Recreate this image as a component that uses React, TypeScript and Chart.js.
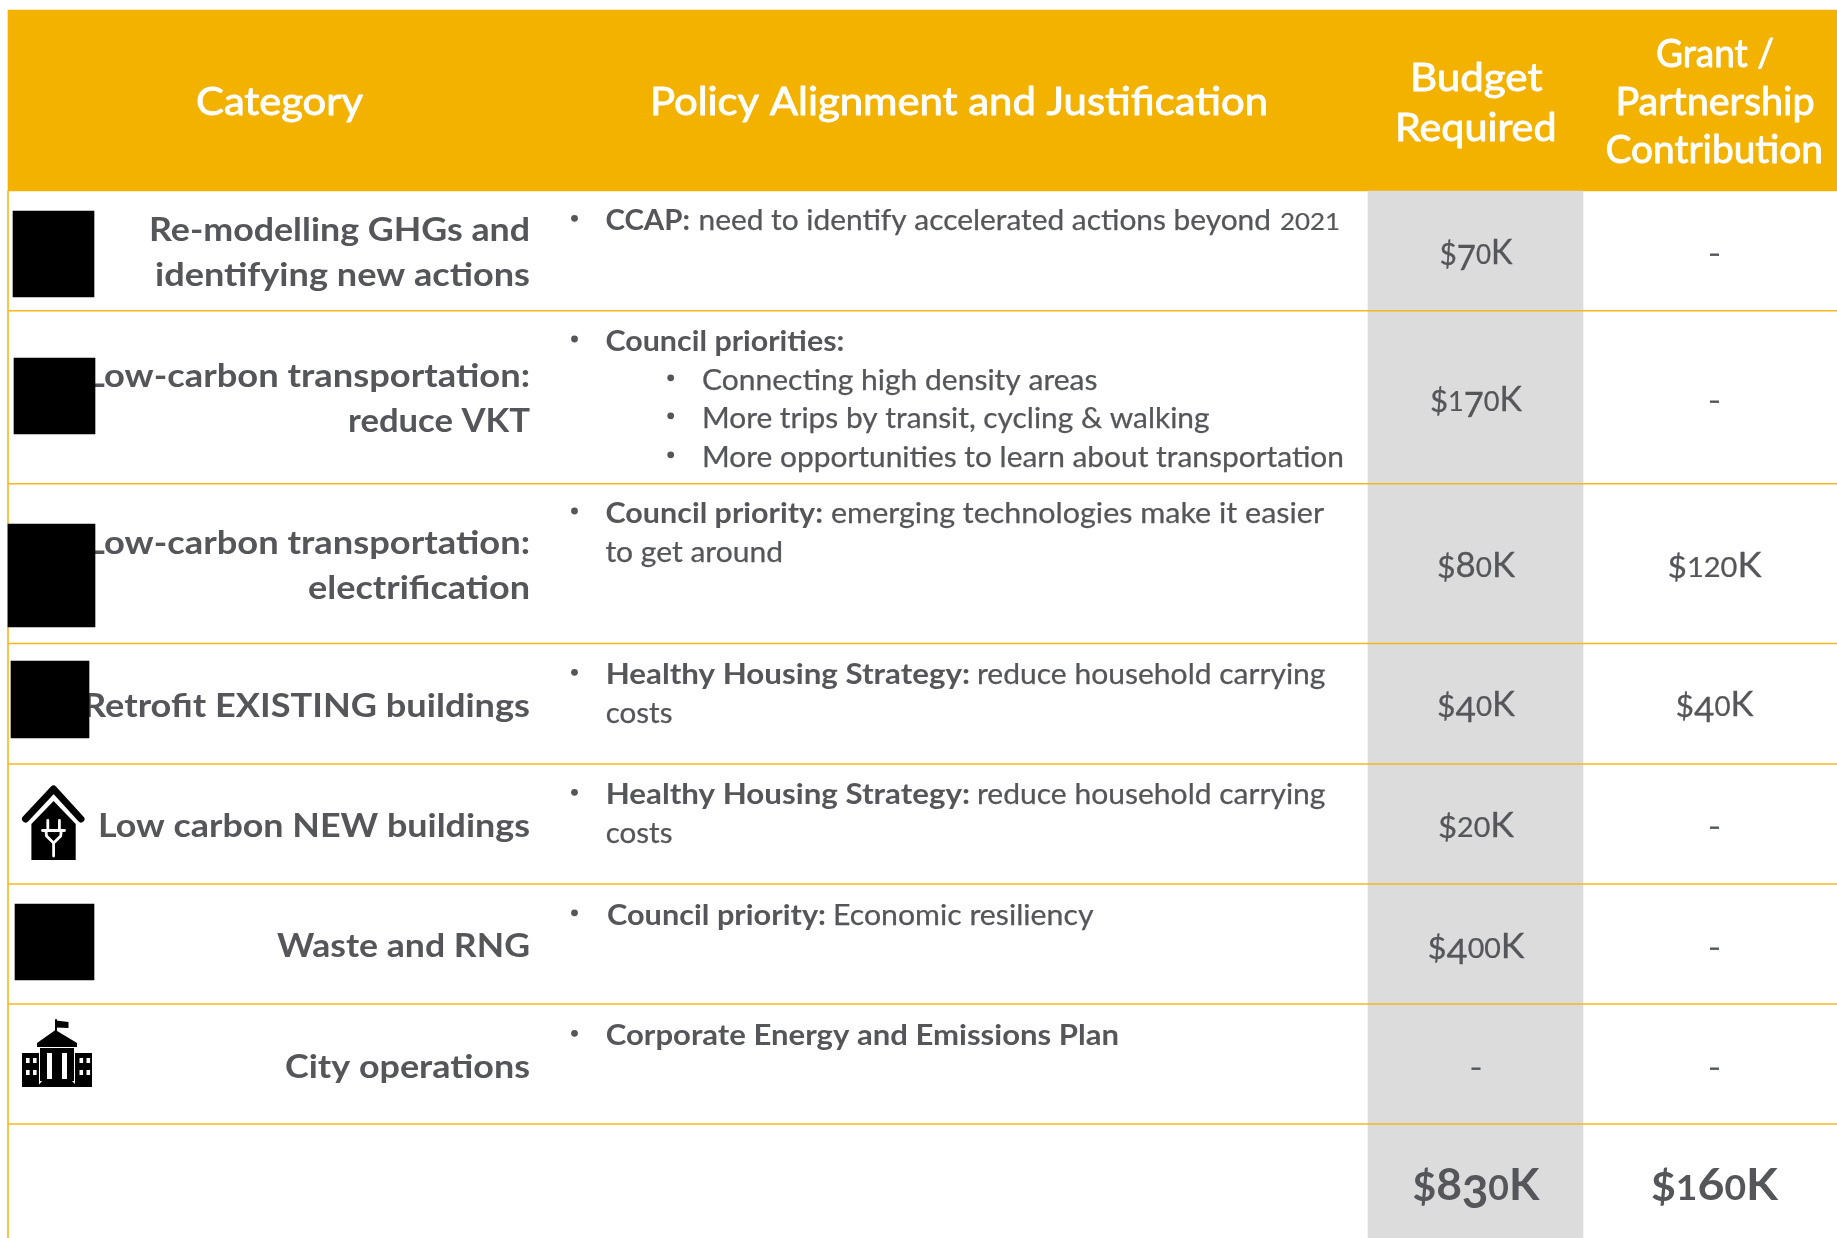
import React, { useEffect, useRef } from "react";
import { Chart, registerables } from "chart.js";

Chart.register(...registerables);

// ---------- content ----------
const headerLabels = ["Category", "Policy Alignment and Justification", "Budget", "Required", "Grant /", "Partnership", "Contribution"];
const categoryLines = [
  "Re-modelling GHGs and", "identifying new actions",
  "Low-carbon transportation:", "reduce VKT",
  "Low-carbon transportation:", "electrification",
  "Retrofit EXISTING buildings",
  "Low carbon NEW buildings",
  "Waste and RNG",
  "City operations",
];
const policyBold = ["CCAP:", "Council priorities:", "", "", "", "Council priority:", "", "Healthy Housing Strategy:", "", "Healthy Housing Strategy:", "", "Council priority:", "Corporate Energy and Emissions Plan"];
const policyText = [
  "need to identify accelerated actions beyond 2021", "",
  "Connecting high density areas", "More trips by transit, cycling & walking", "More opportunities to learn about transportation",
  "emerging technologies make it easier", "to get around",
  "reduce household carrying", "costs",
  "reduce household carrying", "costs",
  "Economic resiliency", "",
];
const budgetValues = [70, 170, 80, 40, 20, 400, null];
const grantValues = [null, null, 120, 40, null, null, null];
const totalValues = [830, 160];

// ---------- layout (in reference pixels, mapped through the chart's scales) ----------
const W = 1837;
const H = 1238;
const ruleYs = [310.7, 483.7, 643.5, 764, 884, 1004, 1124];
const headerRect = [8, 1837, 10, 191];
const budgetRect = [1368, 1583, 191, 1238];
const redactedRects = [
  [13, 94, 211, 297],
  [14, 95, 358, 434],
  [8, 95, 524, 627],
  [11, 89, 661, 738],
  [15, 94, 904, 980],
];
const headerBoxes = [
  [196, 363, 115], [650, 1268, 115],
  [1410, 1542.5, 90.5], [1395, 1556.5, 140.7],
  [1656, 1774, 66.5], [1615.4, 1814.7, 114.5], [1605.5, 1823, 162.5],
];
const categoryBoxes = [
  [149, 530, 240.7], [155, 530, 285.7],
  [86, 530, 386.7], [348, 530, 431.7],
  [86, 530, 554], [308, 530, 599],
  [83, 530, 716.5],
  [98, 530, 836.5],
  [277, 530, 956.5],
  [285, 530, 1077.5],
];
// boldLeft, boldRight, textLeft, textRight, baseline, bulletX (0 = none)
const policyBoxes = [
  [605.4, 690, 698.5, 1340, 230, 574.5],
  [605.4, 844.4, 0, 0, 350.7, 574.5],
  [0, 0, 702, 1097.5, 389.5, 670.7],
  [0, 0, 702, 1209.5, 427.5, 670.7],
  [0, 0, 702, 1344, 466.5, 670.7],
  [605.4, 823, 831, 1324, 522.7, 574.5],
  [0, 0, 605.4, 783, 562, 0],
  [605.7, 970, 977, 1325.5, 684, 574.5],
  [0, 0, 605.7, 672.5, 722.5, 0],
  [605.7, 970, 977, 1325.5, 804, 574.5],
  [0, 0, 605.7, 672.5, 843, 0],
  [607, 826, 833, 1093.5, 924.5, 574.5],
  [605.7, 1119, 0, 0, 1045, 574.5],
];
const valueBaselines = [263.5, 410.5, 576.5, 716, 836.5, 957.5, 1077.5];
const budgetWidths = [73, 92, 78, 78, 76, 97, 0];
const grantWidths = [0, 0, 94, 78, 0, 0, 0];
const budgetCx = 1476;
const grantCx = 1714.5;
const totalBaseline = 1200;
const totalWidths = [127, 127];

const INK = "#54565A";
const AMBER = "#F3B200";
const RULE = "#F4B71E";
const FAMILY = "Lato, 'Open Sans', sans-serif";

// old-style figures: [scale, drop in em]
const glyphStyle = (c: string): [number, number] => {
  if ("012".includes(c)) return [0.8, 0];
  if ("3457 9".includes(c)) return [1.02, 0.19];
  if (c === "$") return [0.92, 0.03];
  return [1, 0];
};

function measureRun(ctx: CanvasRenderingContext2D, text: string, oldStyle: boolean) {
  if (!oldStyle) return ctx.measureText(text).width;
  let w = 0;
  for (const c of text) w += ctx.measureText(c).width * glyphStyle(c)[0];
  return w;
}

function fitText(
  ctx: CanvasRenderingContext2D,
  text: string,
  x0: number,
  x1: number,
  base: number,
  font: string,
  color: string,
  size: number,
  oldStyle = false,
  embolden = 0,
) {
  ctx.save();
  ctx.font = font;
  ctx.fillStyle = color;
  ctx.strokeStyle = color;
  ctx.lineWidth = embolden;
  ctx.lineJoin = "round";
  ctx.textBaseline = "alphabetic";
  ctx.textAlign = "left";
  const w = measureRun(ctx, text, oldStyle);
  ctx.translate(x0, base);
  ctx.scale((x1 - x0) / w, 1);
  if (!oldStyle) {
    ctx.fillText(text, 0, 0);
    if (embolden) ctx.strokeText(text, 0, 0);
  } else {
    let cx = 0;
    for (const c of text) {
      const [s, d] = glyphStyle(c);
      ctx.save();
      ctx.translate(cx, d * size);
      ctx.scale(s, s);
      ctx.fillText(c, 0, 0);
      if (embolden) ctx.strokeText(c, 0, 0);
      ctx.restore();
      cx += ctx.measureText(c).width * s;
    }
  }
  ctx.restore();
}

function splitDigits(
  ctx: CanvasRenderingContext2D,
  text: string,
  x0: number,
  x1: number,
  base: number,
  font: string,
  size: number,
) {
  // body text ending in old-style year
  const m = text.match(/^(.*?)(\d+)$/);
  if (!m) {
    fitText(ctx, text, x0, x1, base, font, INK, size, false, 0.25);
    return;
  }
  const split = x1 - 60;
  fitText(ctx, m[1].trimEnd(), x0, split - 9, base, font, INK, size, false, 0.25);
  fitText(ctx, m[2], split, x1, base, font, INK, size, true, 0.25);
}

function drawTable(chart: Chart) {
  const ctx = chart.ctx;
  const px = (v: number) => chart.scales.x.getPixelForValue(v);
  const py = (v: number) => chart.scales.y.getPixelForValue(v);

  const headFont = `38px ${FAMILY}`;
  headerLabels.forEach((t, i) => {
    const [a, b, c] = headerBoxes[i];
    fitText(ctx, t, px(a), px(b), py(c), headFont, "#FFFFFF", 38, false, 0.9);
  });

  const catFont = `bold 33px ${FAMILY}`;
  categoryLines.forEach((t, i) => {
    const [a, b, c] = categoryBoxes[i];
    fitText(ctx, t, px(a), px(b), py(c), catFont, INK, 33);
  });

  const boldFont = `bold 28px ${FAMILY}`;
  const bodyFont = `28px ${FAMILY}`;
  policyBoxes.forEach((box, i) => {
    const [ba, bb, ta, tb, base, bullet] = box;
    if (policyBold[i]) fitText(ctx, policyBold[i], px(ba), px(bb), py(base), boldFont, INK, 28);
    if (policyText[i]) splitDigits(ctx, policyText[i], px(ta), px(tb), py(base), bodyFont, 28);
    if (bullet) {
      ctx.fillStyle = INK;
      ctx.beginPath();
      ctx.arc(px(bullet), py(base - 11.7), 3.4, 0, Math.PI * 2);
      ctx.fill();
    }
  });

  const valFont = `34px ${FAMILY}`;
  const cell = (v: number | null, cx: number, width: number, base: number) => {
    if (v === null) {
      ctx.fillStyle = INK;
      ctx.fillRect(px(cx - 4.5), py(base - 10), 9, 2.4);
    } else {
      fitText(ctx, `$${v}K`, px(cx - width / 2), px(cx + width / 2), py(base), valFont, INK, 34, true, 0.3);
    }
  };
  budgetValues.forEach((v, i) => cell(v, budgetCx, budgetWidths[i], valueBaselines[i]));
  grantValues.forEach((v, i) => cell(v, grantCx, grantWidths[i], valueBaselines[i]));

  const totFont = `bold 44px ${FAMILY}`;
  [budgetCx, grantCx].forEach((cx, i) => {
    const w = totalWidths[i];
    fitText(ctx, `$${totalValues[i]}K`, px(cx - w / 2), px(cx + w / 2), py(totalBaseline), totFont, INK, 44, true);
  });
}

function drawIcons(chart: Chart) {
  const ctx = chart.ctx;
  const px = (v: number) => chart.scales.x.getPixelForValue(v);
  const py = (v: number) => chart.scales.y.getPixelForValue(v);
  const poly = (pts: number[][], fill: string) => {
    ctx.fillStyle = fill;
    ctx.beginPath();
    pts.forEach(([x, y], i) => (i ? ctx.lineTo(px(x), py(y)) : ctx.moveTo(px(x), py(y))));
    ctx.closePath();
    ctx.fill();
  };
  const stroke = (pts: number[][], color: string, w: number) => {
    ctx.strokeStyle = color;
    ctx.lineWidth = w;
    ctx.lineCap = "round";
    ctx.lineJoin = "round";
    ctx.beginPath();
    pts.forEach(([x, y], i) => (i ? ctx.lineTo(px(x), py(y)) : ctx.moveTo(px(x), py(y))));
    ctx.stroke();
  };
  ctx.save();
  // house with plug
  poly([[53.6, 801], [75.7, 824], [75.7, 860], [31.4, 860], [31.4, 824]], "#000");
  stroke([[25.5, 819], [53.6, 789], [81, 819]], "#000", 7);
  stroke([[47.8, 820.5], [47.8, 829]], "#fff", 2.8);
  stroke([[59.4, 820.5], [59.4, 829]], "#fff", 2.8);
  stroke([[42.5, 830.5], [64.5, 830.5]], "#fff", 2.8);
  stroke([[46, 831], [46.5, 836], [53.6, 843], [60.7, 836], [61.2, 831]], "#fff", 2.8);
  stroke([[53.6, 843], [53.6, 856]], "#fff", 2.8);
  // city hall
  stroke([[56, 1035], [56, 1020]], "#000", 2);
  poly([[56, 1020.5], [68.5, 1022], [68.5, 1028], [56, 1027.5]], "#000");
  poly([[55.5, 1030], [77, 1043], [77, 1047], [37, 1047], [37, 1043]], "#000");
  poly([[22, 1053], [39, 1053], [39, 1087], [22, 1087]], "#000");
  poly([[75, 1053], [92, 1053], [92, 1087], [75, 1087]], "#000");
  poly([[40, 1048], [74, 1048], [74, 1081], [40, 1081]], "#000");
  poly([[47, 1053], [52, 1053], [52, 1079], [47, 1079]], "#fff");
  poly([[62, 1053], [67, 1053], [67, 1079], [62, 1079]], "#fff");
  poly([[43, 1080], [71, 1080], [78, 1087], [37, 1087]], "#000");
  for (const cx of [26, 33, 79.5, 86.5]) {
    for (const cy of [1058, 1070]) {
      poly([[cx, cy], [cx + 3.6, cy], [cx + 3.6, cy + 5], [cx, cy + 5]], "#fff");
    }
  }
  ctx.restore();
}

export default function App() {
  const ref = useRef<HTMLCanvasElement | null>(null);
  useEffect(() => {
    if (!ref.current) return;
    let textDrawn = false;
    const rect = (r: number[], label: string, color: string, order: number) => ({
      type: "bar" as const,
      label,
      data: [{ x: (r[0] + r[1]) / 2, y: [r[2], r[3]] }],
      backgroundColor: color,
      barThickness: r[1] - r[0],
      grouped: false,
      borderWidth: 0,
      order,
    });
    const rule = (pts: { x: number; y: number }[], label: string) => ({
      type: "line" as const,
      label,
      data: pts,
      borderColor: RULE,
      borderWidth: 1.6,
      pointRadius: 0,
      order: 5,
    });
    const datasets: any[] = [
      ...redactedRects.map((r, i) => rect(r, `redacted-${i}`, "#000000", 1)),
      ...ruleYs.map((y, i) => rule([{ x: 8, y }, { x: W, y }], `rule-${i}`)),
      rule([{ x: 8, y: 191 }, { x: 8, y: H }], "left-border"),
      rect(budgetRect, "budget-column", "#DCDCDC", 9),
      rect(headerRect, "header", AMBER, 10),
    ];
    const tablePlugin = {
      id: "tableText",
      beforeDraw() {
        textDrawn = false;
      },
      beforeDatasetDraw(chart: Chart, args: any) {
        const label = String(chart.data.datasets[args.index].label);
        if (label.startsWith("redacted") && !textDrawn) {
          textDrawn = true;
          drawTable(chart);
        }
      },
      afterDatasetsDraw(chart: Chart) {
        drawIcons(chart);
      },
    };
    const chart = new Chart(ref.current, {
      type: "bar",
      data: { datasets },
      plugins: [tablePlugin],
      options: {
        responsive: false,
        animation: false,
        events: [],
        layout: { padding: 0 },
        plugins: { legend: { display: false }, tooltip: { enabled: false }, title: { display: false } },
        scales: {
          x: { type: "linear", min: 0, max: W, display: false, offset: false },
          y: { type: "linear", min: 0, max: H, reverse: true, display: false },
        },
      },
    } as any);
    return () => chart.destroy();
  }, []);
  return (
    <div style={{ position: "fixed", left: 0, top: 0, width: W, height: H, background: "#fff", overflow: "hidden" }}>
      <canvas ref={ref} width={W} height={H} style={{ display: "block" }} />
    </div>
  );
}
